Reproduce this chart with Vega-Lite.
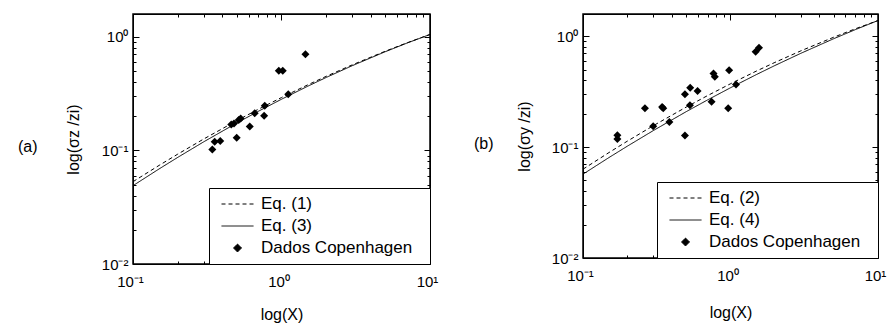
{
  "$schema": "https://vega.github.io/schema/vega-lite/v6.json",
  "background": "white",
  "padding": {"left": 17, "top": 12, "right": 0, "bottom": 0},
  "datasets": {
    "a": [
      {"series": "Eq. (1)", "x": 0.1, "y": 0.053},
      {"series": "Eq. (1)", "x": 0.15, "y": 0.0738},
      {"series": "Eq. (1)", "x": 0.2, "y": 0.0926},
      {"series": "Eq. (1)", "x": 0.3, "y": 0.1261},
      {"series": "Eq. (1)", "x": 0.5, "y": 0.1826},
      {"series": "Eq. (1)", "x": 0.7, "y": 0.2304},
      {"series": "Eq. (1)", "x": 1, "y": 0.2917},
      {"series": "Eq. (1)", "x": 1.5, "y": 0.3768},
      {"series": "Eq. (1)", "x": 2, "y": 0.4483},
      {"series": "Eq. (1)", "x": 3, "y": 0.566},
      {"series": "Eq. (1)", "x": 5, "y": 0.7456},
      {"series": "Eq. (1)", "x": 7, "y": 0.8835},
      {"series": "Eq. (1)", "x": 10, "y": 1.047},
      {"series": "Eq. (3)", "x": 0.1, "y": 0.0489},
      {"series": "Eq. (3)", "x": 0.15, "y": 0.0687},
      {"series": "Eq. (3)", "x": 0.2, "y": 0.0867},
      {"series": "Eq. (3)", "x": 0.3, "y": 0.1191},
      {"series": "Eq. (3)", "x": 0.5, "y": 0.1742},
      {"series": "Eq. (3)", "x": 0.7, "y": 0.2211},
      {"series": "Eq. (3)", "x": 1, "y": 0.2818},
      {"series": "Eq. (3)", "x": 1.5, "y": 0.3665},
      {"series": "Eq. (3)", "x": 2, "y": 0.4381},
      {"series": "Eq. (3)", "x": 3, "y": 0.5567},
      {"series": "Eq. (3)", "x": 5, "y": 0.7385},
      {"series": "Eq. (3)", "x": 7, "y": 0.8794},
      {"series": "Eq. (3)", "x": 10, "y": 1.047},
      {"series": "Dados Copenhagen", "x": 0.342, "y": 0.102},
      {"series": "Dados Copenhagen", "x": 0.355, "y": 0.119},
      {"series": "Dados Copenhagen", "x": 0.387, "y": 0.121},
      {"series": "Dados Copenhagen", "x": 0.459, "y": 0.169},
      {"series": "Dados Copenhagen", "x": 0.479, "y": 0.172},
      {"series": "Dados Copenhagen", "x": 0.499, "y": 0.129},
      {"series": "Dados Copenhagen", "x": 0.515, "y": 0.185},
      {"series": "Dados Copenhagen", "x": 0.531, "y": 0.191},
      {"series": "Dados Copenhagen", "x": 0.611, "y": 0.162},
      {"series": "Dados Copenhagen", "x": 0.66, "y": 0.212},
      {"series": "Dados Copenhagen", "x": 0.764, "y": 0.202},
      {"series": "Dados Copenhagen", "x": 0.771, "y": 0.247},
      {"series": "Dados Copenhagen", "x": 0.959, "y": 0.502},
      {"series": "Dados Copenhagen", "x": 1.02, "y": 0.502},
      {"series": "Dados Copenhagen", "x": 1.11, "y": 0.311},
      {"series": "Dados Copenhagen", "x": 1.45, "y": 0.7}
    ],
    "b": [
      {"series": "Eq. (2)", "x": 0.1, "y": 0.0632},
      {"series": "Eq. (2)", "x": 0.15, "y": 0.0893},
      {"series": "Eq. (2)", "x": 0.2, "y": 0.1132},
      {"series": "Eq. (2)", "x": 0.3, "y": 0.1561},
      {"series": "Eq. (2)", "x": 0.5, "y": 0.2292},
      {"series": "Eq. (2)", "x": 0.7, "y": 0.2915},
      {"series": "Eq. (2)", "x": 1, "y": 0.3724},
      {"series": "Eq. (2)", "x": 1.5, "y": 0.4851},
      {"series": "Eq. (2)", "x": 2, "y": 0.5801},
      {"series": "Eq. (2)", "x": 3, "y": 0.7376},
      {"series": "Eq. (2)", "x": 5, "y": 0.9781},
      {"series": "Eq. (2)", "x": 7, "y": 1.164},
      {"series": "Eq. (2)", "x": 10, "y": 1.384},
      {"series": "Eq. (4)", "x": 0.1, "y": 0.057},
      {"series": "Eq. (4)", "x": 0.15, "y": 0.0805},
      {"series": "Eq. (4)", "x": 0.2, "y": 0.102},
      {"series": "Eq. (4)", "x": 0.3, "y": 0.141},
      {"series": "Eq. (4)", "x": 0.5, "y": 0.2084},
      {"series": "Eq. (4)", "x": 0.7, "y": 0.2665},
      {"series": "Eq. (4)", "x": 1, "y": 0.3428},
      {"series": "Eq. (4)", "x": 1.5, "y": 0.451},
      {"series": "Eq. (4)", "x": 2, "y": 0.544},
      {"series": "Eq. (4)", "x": 3, "y": 0.7009},
      {"series": "Eq. (4)", "x": 5, "y": 0.948},
      {"series": "Eq. (4)", "x": 7, "y": 1.144},
      {"series": "Eq. (4)", "x": 10, "y": 1.384},
      {"series": "Dados Copenhagen", "x": 0.171, "y": 0.128},
      {"series": "Dados Copenhagen", "x": 0.171, "y": 0.118},
      {"series": "Dados Copenhagen", "x": 0.263, "y": 0.224},
      {"series": "Dados Copenhagen", "x": 0.299, "y": 0.154},
      {"series": "Dados Copenhagen", "x": 0.344, "y": 0.23},
      {"series": "Dados Copenhagen", "x": 0.35, "y": 0.224},
      {"series": "Dados Copenhagen", "x": 0.385, "y": 0.168},
      {"series": "Dados Copenhagen", "x": 0.491, "y": 0.299},
      {"series": "Dados Copenhagen", "x": 0.491, "y": 0.127},
      {"series": "Dados Copenhagen", "x": 0.531, "y": 0.238},
      {"series": "Dados Copenhagen", "x": 0.533, "y": 0.343},
      {"series": "Dados Copenhagen", "x": 0.598, "y": 0.32},
      {"series": "Dados Copenhagen", "x": 0.744, "y": 0.257},
      {"series": "Dados Copenhagen", "x": 0.767, "y": 0.461},
      {"series": "Dados Copenhagen", "x": 0.783, "y": 0.431},
      {"series": "Dados Copenhagen", "x": 0.965, "y": 0.224},
      {"series": "Dados Copenhagen", "x": 0.979, "y": 0.494},
      {"series": "Dados Copenhagen", "x": 1.09, "y": 0.367},
      {"series": "Dados Copenhagen", "x": 1.48, "y": 0.723},
      {"series": "Dados Copenhagen", "x": 1.56, "y": 0.785}
    ]
  },
  "spacing": 34,
  "resolve": {
    "scale": {"strokeDash": "independent", "shape": "independent"},
    "legend": {"strokeDash": "independent", "shape": "independent"}
  },
  "hconcat": [
    {
      "width": 297,
      "height": 250,
      "title": {"text": "(a)", "orient": "left", "angle": 0, "anchor": "middle", "offset": 18, "fontSize": 16, "fontWeight": "normal", "font": "Liberation Sans", "color": "black"},
      "data": {"name": "a"},
      "layer": [
        {
          "transform": [{"filter": "datum.series != 'Dados Copenhagen'"}],
          "mark": {"type": "line", "strokeWidth": 1, "color": "black", "clip": true},
          "encoding": {
            "x": {"field": "x", "type": "quantitative", "scale": {"type": "log", "domain": [0.1, 10], "nice": false},
              "axis": {"orient": "bottom", "title": "log(X)", "values": [0.1,0.2,0.3,0.4,0.5,0.6,0.7,0.8,0.9,1,2,3,4,5,6,7,8,9,10],
                "labelExpr": "datum.value == 0.1 ? '10⁻¹' : datum.value == 1 ? '10⁰' : datum.value == 10 ? '10¹' : ''",
                "tickSize": {"condition": {"test": "datum.value == 0.1 || datum.value == 1 || datum.value == 10", "value": -6}, "value": -3},
                "labelPadding": 16, "labelOffset": -3, "titlePadding": 14}},
            "y": {"field": "y", "type": "quantitative", "scale": {"type": "log", "domain": [0.01, 1.585], "nice": false},
              "axis": {"orient": "left", "title": "log(σz /zi)", "values": [0.01,0.02,0.03,0.04,0.05,0.06,0.07,0.08,0.09,0.1,0.2,0.3,0.4,0.5,0.6,0.7,0.8,0.9,1],
                "labelExpr": "datum.value == 0.01 ? '10⁻²' : datum.value == 0.1 ? '10⁻¹' : datum.value == 1 ? '10⁰' : ''",
                "tickSize": {"condition": {"test": "datum.value == 0.01 || datum.value == 0.1 || datum.value == 1", "value": -6}, "value": -3},
                "labelPadding": 11, "titlePadding": 20}},
            "strokeDash": {"field": "series", "type": "nominal", "scale": {"domain": ["Eq. (1)", "Eq. (3)", "Dados Copenhagen"], "range": [[4, 3], [1, 0], [1, 0]]},
              "legend": {"title": " ", "titleOrient": "right", "titlePadding": 10, "titleFontSize": 10,
                "encode": {"symbols": {"update": {"stroke": {"value": "black"}, "strokeWidth": {"value": 1}, "opacity": {"value": 1}}}}}}
          }
        },
        {
          "transform": [{"filter": "datum.series == 'Dados Copenhagen'"}],
          "mark": {"type": "point", "filled": true, "color": "black", "opacity": 1, "size": 64},
          "encoding": {
            "x": {"field": "x", "type": "quantitative", "scale": {"type": "log", "domain": [0.1, 10], "nice": false},
              "axis": {"orient": "top", "title": null, "labels": false, "values": [0.1,0.2,0.3,0.4,0.5,0.6,0.7,0.8,0.9,1,2,3,4,5,6,7,8,9,10],
                "tickSize": {"condition": {"test": "datum.value == 0.1 || datum.value == 1 || datum.value == 10", "value": -6}, "value": -3}}},
            "y": {"field": "y", "type": "quantitative", "scale": {"type": "log", "domain": [0.01, 1.585], "nice": false},
              "axis": {"orient": "right", "title": null, "labels": false, "values": [0.01,0.02,0.03,0.04,0.05,0.06,0.07,0.08,0.09,0.1,0.2,0.3,0.4,0.5,0.6,0.7,0.8,0.9,1],
                "tickSize": {"condition": {"test": "datum.value == 0.01 || datum.value == 0.1 || datum.value == 1", "value": -6}, "value": -3}}},
            "shape": {"field": "series", "type": "nominal", "scale": {"domain": ["Eq. (1)", "Eq. (3)", "Dados Copenhagen"], "range": ["M-4,0H4", "M-4,0H4", "M-1,0L0,-1L1,0L0,1Z"]},
              "legend": {"title": " ", "titleOrient": "right", "titlePadding": 10, "titleFontSize": 10,
                "encode": {"symbols": {"update": {"stroke": {"value": "black"}, "strokeWidth": {"value": 1}, "opacity": {"value": 1}}}}}}
          }
        }
      ],
      "resolve": {"axis": {"x": "independent", "y": "independent"}}
    },
    {
      "width": 295,
      "height": 244,
      "title": {"text": "(b)", "orient": "left", "angle": 0, "anchor": "middle", "offset": 13, "fontSize": 16, "fontWeight": "normal", "font": "Liberation Sans", "color": "black"},
      "data": {"name": "b"},
      "layer": [
        {
          "transform": [{"filter": "datum.series != 'Dados Copenhagen'"}],
          "mark": {"type": "line", "strokeWidth": 1, "color": "black", "clip": true},
          "encoding": {
            "x": {"field": "x", "type": "quantitative", "scale": {"type": "log", "domain": [0.1, 10], "nice": false},
              "axis": {"orient": "bottom", "title": "log(X)", "values": [0.1,0.2,0.3,0.4,0.5,0.6,0.7,0.8,0.9,1,2,3,4,5,6,7,8,9,10],
                "labelExpr": "datum.value == 0.1 ? '10⁻¹' : datum.value == 1 ? '10⁰' : datum.value == 10 ? '10¹' : ''",
                "tickSize": {"condition": {"test": "datum.value == 0.1 || datum.value == 1 || datum.value == 10", "value": -6}, "value": -3},
                "labelPadding": 16, "labelOffset": -3, "titlePadding": 18}},
            "y": {"field": "y", "type": "quantitative", "scale": {"type": "log", "domain": [0.01, 1.585], "nice": false},
              "axis": {"orient": "left", "title": "log(σy /zi)", "values": [0.01,0.02,0.03,0.04,0.05,0.06,0.07,0.08,0.09,0.1,0.2,0.3,0.4,0.5,0.6,0.7,0.8,0.9,1],
                "labelExpr": "datum.value == 0.01 ? '10⁻²' : datum.value == 0.1 ? '10⁻¹' : datum.value == 1 ? '10⁰' : ''",
                "tickSize": {"condition": {"test": "datum.value == 0.01 || datum.value == 0.1 || datum.value == 1", "value": -6}, "value": -3},
                "labelPadding": 11, "titlePadding": 19}},
            "strokeDash": {"field": "series", "type": "nominal", "scale": {"domain": ["Eq. (2)", "Eq. (4)", "Dados Copenhagen"], "range": [[4, 3], [1, 0], [1, 0]]},
              "legend": {"title": " ", "titleOrient": "right", "titlePadding": 10, "titleFontSize": 10,
                "encode": {"symbols": {"update": {"stroke": {"value": "black"}, "strokeWidth": {"value": 1}, "opacity": {"value": 1}}}}}}
          }
        },
        {
          "transform": [{"filter": "datum.series == 'Dados Copenhagen'"}],
          "mark": {"type": "point", "filled": true, "color": "black", "opacity": 1, "size": 64},
          "encoding": {
            "x": {"field": "x", "type": "quantitative", "scale": {"type": "log", "domain": [0.1, 10], "nice": false},
              "axis": {"orient": "top", "title": null, "labels": false, "values": [0.1,0.2,0.3,0.4,0.5,0.6,0.7,0.8,0.9,1,2,3,4,5,6,7,8,9,10],
                "tickSize": {"condition": {"test": "datum.value == 0.1 || datum.value == 1 || datum.value == 10", "value": -6}, "value": -3}}},
            "y": {"field": "y", "type": "quantitative", "scale": {"type": "log", "domain": [0.01, 1.585], "nice": false},
              "axis": {"orient": "right", "title": null, "labels": false, "values": [0.01,0.02,0.03,0.04,0.05,0.06,0.07,0.08,0.09,0.1,0.2,0.3,0.4,0.5,0.6,0.7,0.8,0.9,1],
                "tickSize": {"condition": {"test": "datum.value == 0.01 || datum.value == 0.1 || datum.value == 1", "value": -6}, "value": -3}}},
            "shape": {"field": "series", "type": "nominal", "scale": {"domain": ["Eq. (2)", "Eq. (4)", "Dados Copenhagen"], "range": ["M-4,0H4", "M-4,0H4", "M-1,0L0,-1L1,0L0,1Z"]},
              "legend": {"title": " ", "titleOrient": "right", "titlePadding": 10, "titleFontSize": 10,
                "encode": {"symbols": {"update": {"stroke": {"value": "black"}, "strokeWidth": {"value": 1}, "opacity": {"value": 1}}}}}}
          }
        }
      ],
      "resolve": {"axis": {"x": "independent", "y": "independent"}}
    }
  ],
  "config": {
    "font": "Liberation Sans",
    "view": {"stroke": "black", "strokeWidth": 1.5},
    "axis": {
      "labelFont": "Liberation Sans", "titleFont": "Liberation Sans",
      "labelFontSize": 15, "titleFontSize": 16, "titleFontWeight": "normal",
      "labelColor": "black", "titleColor": "black",
      "domainColor": "black", "tickColor": "black", "grid": false,
      "labelFlush": false, "labelOverlap": false
    },
    "legend": {
      "orient": "bottom-right", "offset": 0,
      "strokeColor": "black", "fillColor": "white", "padding": 8,
      "labelFont": "Liberation Sans", "labelFontSize": 17, "labelColor": "black",
      "labelOffset": 15, "symbolOffset": 12, "symbolSize": 64, "clipHeight": 16, "rowPadding": 5,
      "symbolStrokeColor": "black", "symbolFillColor": "black", "symbolStrokeWidth": 1
    }
  }
}
